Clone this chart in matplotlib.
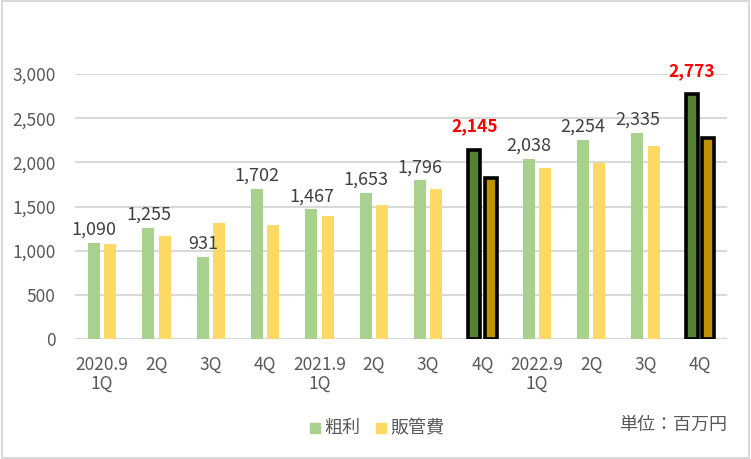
import matplotlib.pyplot as plt
import numpy as np
from matplotlib.patches import Rectangle

plt.rcParams['font.family'] = ['Noto Sans CJK JP', 'DejaVu Sans']

labels = ["2020.9\n1Q", "2Q", "3Q", "4Q", "2021.9\n1Q", "2Q", "3Q", "4Q",
          "2022.9\n1Q", "2Q", "3Q", "4Q"]
gross = [1090, 1255, 931, 1702, 1467, 1653, 1796, 2145, 2038, 2254, 2335, 2773]
sga = [1075, 1166, 1313, 1292, 1394, 1519, 1701, 1828, 1936, 1990, 2185, 2272]
highlight = [7, 11]

GREEN = "#A9D18E"
YELLOW = "#FFD966"
GREEN_DARK = "#548235"
YELLOW_DARK = "#BF9000"
GRID = "#D9D9D9"
TEXT = "#595959"
LABEL = "#404040"

fig = plt.figure(figsize=(7.51, 4.59), dpi=100)
fig.patch.set_facecolor("white")
fig.patches.append(Rectangle((0.002, 0.002), 0.996, 0.995, transform=fig.transFigure,
                             fill=False, edgecolor=GRID, linewidth=1.5))

ax = fig.add_axes([75 / 751, 120 / 459, 652 / 751, 265 / 459])
x = np.arange(len(labels))
w = 0.22
off = 0.148

for i in x:
    hl = i in highlight
    ax.bar(i - off, gross[i], w, color=GREEN_DARK if hl else GREEN,
           edgecolor="black" if hl else "none", linewidth=2.6 if hl else 0, zorder=3)
    ax.bar(i + off, sga[i], w, color=YELLOW_DARK if hl else YELLOW,
           edgecolor="black" if hl else "none", linewidth=2.6 if hl else 0, zorder=3)
    if hl:
        ax.annotate(f"{gross[i]:,}", (i - off, gross[i]), textcoords="offset points",
                    xytext=(0, 10), ha="center", va="bottom", color="#FF0000",
                    fontsize=12.5, fontweight="bold", annotation_clip=False)
    else:
        ax.annotate(f"{gross[i]:,}", (i - off, gross[i]), textcoords="offset points",
                    xytext=(0, 3), ha="center", va="bottom", color=LABEL,
                    fontsize=13, annotation_clip=False)

ax.set_xlim(-0.5, len(labels) - 0.5)
ax.set_ylim(0, 3000)
ax.set_yticks(range(0, 3001, 500))
ax.set_yticklabels([f"{v:,}" for v in range(0, 3001, 500)])
ax.set_xticks(x)
ax.set_xticklabels(labels, linespacing=1.1)
ax.tick_params(axis="both", length=0, colors=TEXT, labelsize=12.5)
ax.tick_params(axis="x", pad=12)
ax.tick_params(axis="y", pad=14)
ax.grid(axis="y", color=GRID, linewidth=1.5, zorder=0)
ax.set_axisbelow(True)
for s in ax.spines.values():
    s.set_visible(False)

h1 = ax.scatter([], [], marker="s", s=45, color=GREEN, label="粗利")
h2 = ax.scatter([], [], marker="s", s=45, color=YELLOW, label="販管費")
fig.legend(handles=[h1, h2], loc="center", bbox_to_anchor=(376 / 751, 1 - 428 / 459),
           ncol=2, frameon=False, fontsize=13, labelcolor=TEXT, handletextpad=0.1,
           columnspacing=0.8, handlelength=0.8)
fig.text(727 / 751, 1 - 425 / 459, "単位：百万円", ha="right", va="center",
         fontsize=13, color=TEXT)

fig.savefig("out.png", dpi=100, facecolor="white")
